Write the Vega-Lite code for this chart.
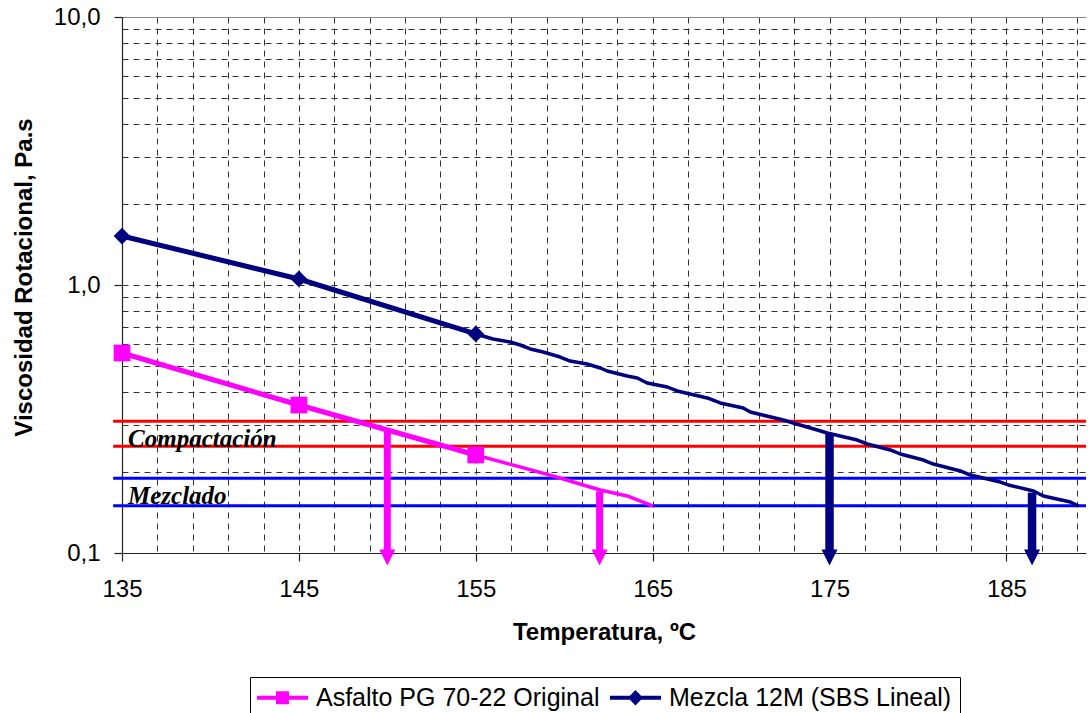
{
  "$schema": "https://vega.github.io/schema/vega-lite/v6.json",
  "autosize": {"type": "none"},
  "padding": {"left": 122, "top": 17, "right": 2, "bottom": 160},
  "width": 964,
  "height": 536,
  "background": "white",
  "config": {
    "view": {"stroke": null},
    "axis": {
      "labelFont": "Liberation Sans",
      "titleFont": "Liberation Sans",
      "labelColor": "#000",
      "titleColor": "#000",
      "domainColor": "#222",
      "domainWidth": 1.2,
      "tickColor": "#222",
      "gridColor": "#333",
      "gridWidth": 1,
      "gridOpacity": 1,
      "labelOverlap": false,
      "labelFlush": false,
      "labelBound": false
    }
  },
  "datasets": {
    "medidas": [
      {"serie": "Asfalto PG 70-22 Original", "x": 135, "v": 0.5575},
      {"serie": "Asfalto PG 70-22 Original", "x": 145, "v": 0.3566},
      {"serie": "Asfalto PG 70-22 Original", "x": 155, "v": 0.2321},
      {"serie": "Mezcla 12M (SBS Lineal)", "x": 135, "v": 1.523},
      {"serie": "Mezcla 12M (SBS Lineal)", "x": 145, "v": 1.053},
      {"serie": "Mezcla 12M (SBS Lineal)", "x": 155, "v": 0.6565}
    ],
    "tendencia": [
      {"serie": "Asfalto PG 70-22 Original", "x": 135, "v": 0.5575},
      {"serie": "Asfalto PG 70-22 Original", "x": 145, "v": 0.3566},
      {"serie": "Asfalto PG 70-22 Original", "x": 155, "v": 0.2321},
      {"serie": "Asfalto PG 70-22 Original", "x": 157.5, "v": 0.2095},
      {"serie": "Asfalto PG 70-22 Original", "x": 159.77, "v": 0.1905},
      {"serie": "Asfalto PG 70-22 Original", "x": 161.07, "v": 0.1794},
      {"serie": "Asfalto PG 70-22 Original", "x": 162.04, "v": 0.1718},
      {"serie": "Asfalto PG 70-22 Original", "x": 163.56, "v": 0.1632},
      {"serie": "Asfalto PG 70-22 Original", "x": 165.03, "v": 0.1497},
      {"serie": "Mezcla 12M (SBS Lineal)", "x": 135, "v": 1.523},
      {"serie": "Mezcla 12M (SBS Lineal)", "x": 145, "v": 1.053},
      {"serie": "Mezcla 12M (SBS Lineal)", "x": 155, "v": 0.6565},
      {"serie": "Mezcla 12M (SBS Lineal)", "x": 155.98, "v": 0.6288},
      {"serie": "Mezcla 12M (SBS Lineal)", "x": 156.95, "v": 0.6128},
      {"serie": "Mezcla 12M (SBS Lineal)", "x": 157.51, "v": 0.5972},
      {"serie": "Mezcla 12M (SBS Lineal)", "x": 158.08, "v": 0.5771},
      {"serie": "Mezcla 12M (SBS Lineal)", "x": 158.81, "v": 0.5623},
      {"serie": "Mezcla 12M (SBS Lineal)", "x": 159.77, "v": 0.5385},
      {"serie": "Mezcla 12M (SBS Lineal)", "x": 160.34, "v": 0.5204},
      {"serie": "Mezcla 12M (SBS Lineal)", "x": 161.3, "v": 0.5072},
      {"serie": "Mezcla 12M (SBS Lineal)", "x": 162.04, "v": 0.4901},
      {"serie": "Mezcla 12M (SBS Lineal)", "x": 162.43, "v": 0.4776},
      {"serie": "Mezcla 12M (SBS Lineal)", "x": 163.56, "v": 0.4575},
      {"serie": "Mezcla 12M (SBS Lineal)", "x": 164.13, "v": 0.4498},
      {"serie": "Mezcla 12M (SBS Lineal)", "x": 164.69, "v": 0.4308},
      {"serie": "Mezcla 12M (SBS Lineal)", "x": 165.83, "v": 0.4163},
      {"serie": "Mezcla 12M (SBS Lineal)", "x": 166.39, "v": 0.4023},
      {"serie": "Mezcla 12M (SBS Lineal)", "x": 168.09, "v": 0.3789},
      {"serie": "Mezcla 12M (SBS Lineal)", "x": 168.82, "v": 0.3629},
      {"serie": "Mezcla 12M (SBS Lineal)", "x": 170.12, "v": 0.3475},
      {"serie": "Mezcla 12M (SBS Lineal)", "x": 170.52, "v": 0.3358},
      {"serie": "Mezcla 12M (SBS Lineal)", "x": 172.39, "v": 0.3134},
      {"serie": "Mezcla 12M (SBS Lineal)", "x": 172.95, "v": 0.3055},
      {"serie": "Mezcla 12M (SBS Lineal)", "x": 174.31, "v": 0.2877},
      {"serie": "Mezcla 12M (SBS Lineal)", "x": 174.87, "v": 0.2804},
      {"serie": "Mezcla 12M (SBS Lineal)", "x": 176.57, "v": 0.264},
      {"serie": "Mezcla 12M (SBS Lineal)", "x": 177.14, "v": 0.2551},
      {"serie": "Mezcla 12M (SBS Lineal)", "x": 178.44, "v": 0.2423},
      {"serie": "Mezcla 12M (SBS Lineal)", "x": 179.0, "v": 0.2341},
      {"serie": "Mezcla 12M (SBS Lineal)", "x": 180.31, "v": 0.2223},
      {"serie": "Mezcla 12M (SBS Lineal)", "x": 180.87, "v": 0.2148},
      {"serie": "Mezcla 12M (SBS Lineal)", "x": 182.4, "v": 0.2023},
      {"serie": "Mezcla 12M (SBS Lineal)", "x": 182.96, "v": 0.1954},
      {"serie": "Mezcla 12M (SBS Lineal)", "x": 184.66, "v": 0.184},
      {"serie": "Mezcla 12M (SBS Lineal)", "x": 185.11, "v": 0.1794},
      {"serie": "Mezcla 12M (SBS Lineal)", "x": 186.53, "v": 0.1703},
      {"serie": "Mezcla 12M (SBS Lineal)", "x": 187.09, "v": 0.1632},
      {"serie": "Mezcla 12M (SBS Lineal)", "x": 188.62, "v": 0.155},
      {"serie": "Mezcla 12M (SBS Lineal)", "x": 189.07, "v": 0.1497}
    ],
    "limites": [
      {"rango": "Compactación", "v": 0.31},
      {"rango": "Compactación", "v": 0.25},
      {"rango": "Mezclado", "v": 0.19},
      {"rango": "Mezclado", "v": 0.15}
    ],
    "flechas": [
      {"serie": "Asfalto PG 70-22 Original", "x": 150, "v": 0.285},
      {"serie": "Asfalto PG 70-22 Original", "x": 162, "v": 0.17},
      {"serie": "Mezcla 12M (SBS Lineal)", "x": 175, "v": 0.28},
      {"serie": "Mezcla 12M (SBS Lineal)", "x": 186.45, "v": 0.168}
    ],
    "rotulos": [
      {"texto": "Compactación", "x": 135.34, "v": 0.2486},
      {"texto": "Mezclado", "x": 135.34, "v": 0.1523}
    ]
  },
  "resolve": {"scale": {"color": "independent", "shape": "independent", "strokeWidth": "independent"}},
  "layer": [
    {
      "data": {"name": "limites"},
      "mark": {"type": "rule", "strokeWidth": 3},
      "encoding": {
        "x": {"datum": 134.5, "type": "quantitative",
          "scale": {"domain": [135, 189.5], "nice": false, "zero": false},
          "axis": {
            "title": "Temperatura, ºC",
            "titleFontSize": 24,
            "titleFontWeight": "bold",
            "titlePadding": 19,
            "labelFontSize": 24,
            "labelPadding": 16,
            "tickCount": 200,
            "format": "d",
            "values": [135,137,139,141,143,145,147,149,151,153,155,157,159,161,163,165,167,169,171,173,175,177,179,181,183,185,187,189],
            "labelExpr": "(datum.value - 135) % 10 === 0 ? datum.label : ''",
            "tickSize": {"condition": {"test": "(datum.value - 135) % 10 === 0", "value": 8}, "value": 0},
            "tickWidth": 1.2,
            "grid": true,
            "gridDash": [6, 5]
          }
        },
        "x2": {"datum": 189.5},
        "y": {"field": "v", "type": "quantitative",
          "scale": {"type": "log", "domain": [0.1, 10], "nice": false},
          "axis": {
            "title": "Viscosidad Rotacional, Pa.s",
            "titleFontSize": 24,
            "titleFontWeight": "bold",
            "titlePadding": 17,
            "titleY": 260,
            "labelFontSize": 24,
            "labelPadding": 14,
            "tickCount": 200,
            "values": [0.1,0.2,0.3,0.4,0.5,0.6,0.7,0.8,0.9,1,2,3,4,5,6,7,8,9,10],
            "labelExpr": "datum.value === 0.1 ? '0,1' : datum.value === 1 ? '1,0' : datum.value === 10 ? '10,0' : ''",
            "tickSize": {"condition": {"test": "datum.value === 0.1 || datum.value === 1 || datum.value === 10", "value": 8}, "value": 0},
            "tickWidth": 1.2,
            "grid": true,
            "gridDash": {"condition": {"test": "datum.value === 10", "value": []}, "value": [6, 5]},
            "gridColor": {"condition": {"test": "datum.value === 10", "value": "#888"}, "value": "#333"}
          }
        },
        "color": {"field": "rango", "type": "nominal",
          "scale": {"domain": ["Compactación", "Mezclado"], "range": ["#FF0000", "#0000FF"]},
          "legend": null}
      }
    },
    {
      "data": {"name": "tendencia"},
      "mark": {"type": "line", "strokeWidth": 3.5, "strokeJoin": "round"},
      "encoding": {
        "x": {"field": "x", "type": "quantitative"},
        "y": {"field": "v", "type": "quantitative"},
        "color": {"field": "serie", "type": "nominal",
          "scale": {"domain": ["Asfalto PG 70-22 Original", "Mezcla 12M (SBS Lineal)"], "range": ["#FF00FF", "#000080"]},
          "legend": null}
      }
    },
    {
      "data": {"name": "medidas"},
      "mark": {"type": "line", "strokeWidth": 5, "strokeJoin": "round"},
      "encoding": {
        "x": {"field": "x", "type": "quantitative"},
        "y": {"field": "v", "type": "quantitative"},
        "color": {"field": "serie", "type": "nominal",
          "scale": {"domain": ["Asfalto PG 70-22 Original", "Mezcla 12M (SBS Lineal)"], "range": ["#FF00FF", "#000080"]},
          "legend": null}
      }
    },
    {
      "data": {"name": "medidas"},
      "mark": {"type": "point", "filled": true, "opacity": 1, "size": 280},
      "encoding": {
        "x": {"field": "x", "type": "quantitative"},
        "y": {"field": "v", "type": "quantitative"},
        "color": {"field": "serie", "type": "nominal",
          "scale": {"domain": ["Asfalto PG 70-22 Original", "Mezcla 12M (SBS Lineal)"], "range": ["#FF00FF", "#000080"]},
          "legend": null},
        "shape": {"field": "serie", "type": "nominal",
          "scale": {"domain": ["Asfalto PG 70-22 Original", "Mezcla 12M (SBS Lineal)"], "range": ["square", "diamond"]},
          "legend": null}
      }
    },
    {
      "data": {"name": "flechas"},
      "mark": {"type": "rule", "strokeCap": "butt"},
      "encoding": {
        "x": {"field": "x", "type": "quantitative"},
        "y": {"field": "v", "type": "quantitative"},
        "y2": {"datum": 0.1017},
        "color": {"field": "serie", "type": "nominal",
          "scale": {"domain": ["Asfalto PG 70-22 Original", "Mezcla 12M (SBS Lineal)"], "range": ["#FF00FF", "#000080"]},
          "legend": null},
        "strokeWidth": {"field": "serie", "type": "nominal",
          "scale": {"domain": ["Asfalto PG 70-22 Original", "Mezcla 12M (SBS Lineal)"], "range": [7, 8.5]},
          "legend": null}
      }
    },
    {
      "data": {"name": "flechas"},
      "mark": {"type": "point", "filled": true, "opacity": 1, "size": 256, "shape": "M-1,-1 L1,-1 L0,1 Z"},
      "encoding": {
        "x": {"field": "x", "type": "quantitative"},
        "y": {"datum": 0.0962, "type": "quantitative"},
        "color": {"field": "serie", "type": "nominal",
          "scale": {"domain": ["Asfalto PG 70-22 Original", "Mezcla 12M (SBS Lineal)"], "range": ["#FF00FF", "#000080"]},
          "legend": null}
      }
    },
    {
      "data": {"name": "rotulos"},
      "mark": {"type": "text", "align": "left", "baseline": "alphabetic", "font": "Liberation Serif", "fontStyle": "italic", "fontWeight": "bold", "fontSize": 25, "color": "#000"},
      "encoding": {
        "x": {"field": "x", "type": "quantitative"},
        "y": {"field": "v", "type": "quantitative"},
        "text": {"field": "texto", "type": "nominal"}
      }
    },
    {
      "data": {"name": "medidas"},
      "mark": {"type": "point", "filled": true, "opacity": 0, "size": 169},
      "encoding": {
        "x": {"field": "x", "type": "quantitative"},
        "y": {"field": "v", "type": "quantitative"},
        "color": {"field": "serie", "type": "nominal",
          "scale": {"domain": ["Asfalto PG 70-22 Original", "Mezcla 12M (SBS Lineal)"], "range": ["#FF00FF", "#000080"]},
          "legend": {"title": null, "orient": "none", "legendX": 128, "legendY": 660, "direction": "horizontal",
            "strokeColor": "#000", "fillColor": "#fff", "padding": 8, "labelFont": "Liberation Sans", "labelFontSize": 25,
            "labelColor": "#000", "labelLimit": 500, "labelOffset": 33, "columnPadding": 9, "symbolSize": 169,
            "symbolStrokeWidth": 0, "symbolOpacity": 1}},
        "shape": {"field": "serie", "type": "nominal",
          "scale": {"domain": ["Asfalto PG 70-22 Original", "Mezcla 12M (SBS Lineal)"],
            "range": ["M-2.08,-0.31 L5.77,-0.31 L5.77,0.31 L-2.08,0.31 Z M0.84,-1 L2.84,-1 L2.84,1 L0.84,1 Z",
                      "M-2.08,-0.31 L5.77,-0.31 L5.77,0.31 L-2.08,0.31 Z M1.84,-1.2 L2.99,0 L1.84,1.2 L0.69,0 Z"]},
          "legend": {"title": null, "orient": "none", "legendX": 128, "legendY": 660, "direction": "horizontal",
            "strokeColor": "#000", "fillColor": "#fff", "padding": 8, "labelFont": "Liberation Sans", "labelFontSize": 25,
            "labelColor": "#000", "labelLimit": 500, "labelOffset": 33, "columnPadding": 9, "symbolSize": 169,
            "symbolStrokeWidth": 0, "symbolOpacity": 1}}
      }
    }
  ]
}
